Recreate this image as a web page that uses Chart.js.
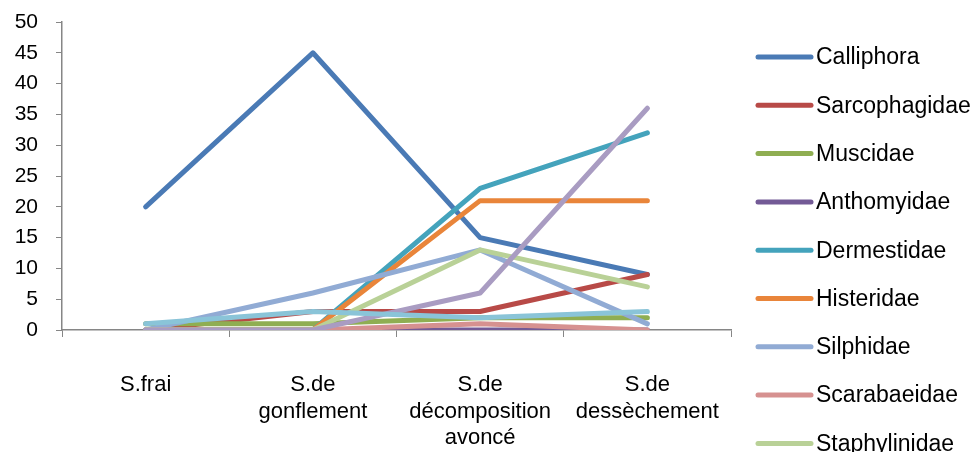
<!DOCTYPE html>
<html>
<head>
<meta charset="utf-8">
<script src="https://cdn.jsdelivr.net/npm/chart.js@4"></script>
<style>
  html, body { margin: 0; padding: 0; background: #fff; overflow: hidden; }
</style>
</head>
<body>
<canvas id="chart" width="979" height="452"></canvas>
<script>
// stages (x categories)
const stages = [
  'S.frai',
  ['S.de', 'gonflement'],
  ['S.de', 'décomposition', 'avoncé'],
  ['S.de', 'dessèchement']
];

const families = ['Calliphora', 'Sarcophagidae', 'Muscidae', 'Anthomyidae', 'Dermestidae',
  'Histeridae', 'Silphidae', 'Scarabaeidae', 'Staphylinidae', 'Cleridae', 'Nitidulidae'];

const calliphora    = [20, 45, 15, 9];
const sarcophagidae = [0, 3, 3, 9];
const muscidae      = [1, 1, 2, 2];
const anthomyidae   = [0, 0, 0, 0];
const dermestidae   = [0, 0, 23, 32];
const histeridae    = [0, 0, 21, 21];
const silphidae     = [0, 6, 13, 1];
const scarabaeidae  = [0, 0, 1, 0];
const staphylinidae = [0, 0, 13, 7];
const cleridae      = [0, 0, 6, 36];
const nitidulidae   = [1, 3, 2, 3];

const yTicks = [0, 5, 10, 15, 20, 25, 30, 35, 40, 45, 50];

const colors = ['#4a7ab5', '#b84a47', '#8fae52', '#735a96', '#44a3bc', '#e9853a',
  '#91abd4', '#d69190', '#b9d197', '#a99cc2', '#8ac4d8'];

const series = [calliphora, sarcophagidae, muscidae, anthomyidae, dermestidae,
  histeridae, silphidae, scarabaeidae, staphylinidae, cleridae, nitidulidae];

const FONT = '"Liberation Sans", Arial, sans-serif';

// legend drawn on the right, items run off the bottom like the original
const sideLegend = {
  id: 'sideLegend',
  afterDraw(chart) {
    const ctx = chart.ctx;
    ctx.save();
    chart.data.datasets.forEach((ds, i) => {
      const y = 57 + i * 48.3;
      ctx.strokeStyle = ds.borderColor;
      ctx.lineWidth = 5;
      ctx.lineCap = 'round';
      ctx.beginPath();
      ctx.moveTo(758, y);
      ctx.lineTo(811, y);
      ctx.stroke();
      ctx.fillStyle = '#000';
      ctx.font = '23px ' + FONT;
      ctx.textBaseline = 'middle';
      ctx.fillText(ds.label, 816, y + 1);
    });
    ctx.restore();
  }
};

new Chart(document.getElementById('chart'), {
  type: 'line',
  data: {
    labels: stages,
    datasets: series.map((d, i) => ({
      label: families[i],
      data: d,
      borderColor: colors[i],
      backgroundColor: colors[i],
      borderWidth: 5,
      pointRadius: 0,
      tension: 0,
      borderCapStyle: 'round',
      borderJoinStyle: 'round',
      order: -i
    }))
  },
  options: {
    responsive: false,
    animation: false,
    layout: { padding: { top: 22, right: 248, left: 0, bottom: 0 } },
    plugins: {
      legend: { display: false },
      tooltip: { enabled: false }
    },
    scales: {
      x: {
        offset: true,
        grid: { offset: true, drawOnChartArea: false, tickLength: 7, color: '#868686' },
        border: { color: '#868686', width: 1.5 },
        ticks: { color: '#000', font: { family: FONT, size: 22, lineHeight: 1.2 }, padding: 35, maxRotation: 0, autoSkip: false },
        afterFit(s) { s.height = 122; s.paddingLeft = 0; s.paddingRight = 0; }
      },
      y: {
        min: 0,
        max: 50,
        afterBuildTicks(s) { s.ticks = yTicks.map(v => ({ value: v })); },
        grid: { drawOnChartArea: false, tickLength: 6, color: '#868686' },
        border: { color: '#868686', width: 1.5 },
        ticks: { color: '#000', font: { family: FONT, size: 21 }, padding: 18 },
        afterFit(s) { s.width = 62; s.paddingTop = 0; s.paddingBottom = 0; }
      }
    }
  },
  plugins: [sideLegend]
});
</script>
</body>
</html>
